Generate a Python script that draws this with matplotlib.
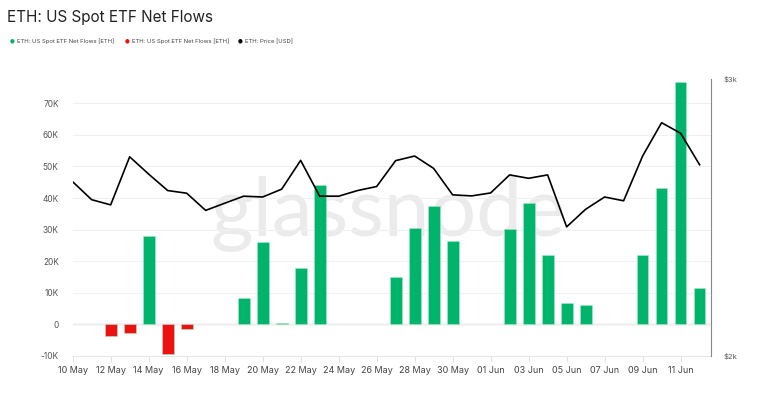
import matplotlib
matplotlib.use('Agg')
import matplotlib.pyplot as plt
import matplotlib.dates as mdates
import numpy as np
import pandas as pd

plt.rcParams['font.family'] = ['Inter', 'DejaVu Sans']

# Daily data, 10 May .. 12 Jun
dates = pd.date_range('2025-05-10', '2025-06-12', freq='D')
flows = [0, 0, -3600, -2800, 28000, -9300, -1500, 0, 0, 8400,
         26100, 300, 17800, 44200, 0, 0, 0, 15100, 30600, 37500,
         26500, 0, 0, 30200, 38300, 21900, 6900, 6100, 0, 0,
         22100, 43200, 76900, 11400]
price = [2581, 2514, 2495, 2677, 2610, 2548, 2538, 2475, 2501, 2527,
         2524, 2553, 2663, 2527, 2527, 2548, 2563, 2662, 2680, 2632,
         2532, 2528, 2539, 2607, 2594, 2607, 2416, 2479, 2524, 2510,
         2680, 2814, 2771, 2646]
series_labels = ['ETH: US Spot ETF Net Flows [ETH]',
                 'ETH: US Spot ETF Net Flows [ETH]',
                 'ETH: Price [USD]']

GREEN = '#00b46c'
RED = '#ee1111'

fig = plt.figure(figsize=(7.65, 3.99), dpi=100)
ax = fig.add_axes([0.095, 0.108, 0.834, 0.694])

flows = np.array(flows)
nz = flows != 0
colors = [GREEN if v >= 0 else RED for v in flows[nz]]
ax.bar(dates[nz], flows[nz], width=0.62, color=colors, edgecolor='#a8e6c8',
       linewidth=0.4, zorder=2)
ax.axhline(0, color='#a8a8a8', lw=0.9, zorder=1.5)

# watermark behind the data
ax.text(0.494, 0.513, 'glassnode', transform=ax.transAxes, fontsize=59,
        color='#ebebeb', ha='center', va='center', zorder=0.5,
        family=['Lato', 'DejaVu Sans'])

ax.set_ylim(-10000, 77700)
ax.set_yticks(np.arange(-10000, 70001, 10000))
ax.set_yticklabels(['0' if v == 0 else '{}K'.format(v // 1000)
                    for v in range(-10000, 70001, 10000)])
ax.grid(axis='y', color='#f0f0f0', lw=0.8, zorder=0)
ax.set_xlim(dates[0], dates[-1] + pd.Timedelta(hours=14))
ax.set_xticks(dates[::2])
ax.xaxis.set_major_formatter(mdates.DateFormatter('%d %b'))
ax.tick_params(axis='y', length=0, pad=10, labelsize=6, labelcolor='#555555')
ax.tick_params(axis='x', length=4, color='#e2e2e2', pad=3, labelsize=6.5,
               labelcolor='#444444')
for s in ['top', 'left', 'right']:
    ax.spines[s].set_visible(False)
ax.spines['bottom'].set_color('#e6e6e6')

ax2 = ax.twinx()
ax2.plot(dates, price, color='black', lw=1.2, zorder=3)
ax2.set_yscale('log')
ax2.set_ylim(2000, 3000)
ax2.set_yticks([2000, 3000])
ax2.set_yticklabels(['$2k', '$3k'])
ax2.yaxis.set_minor_locator(matplotlib.ticker.NullLocator())
ax2.tick_params(axis='y', length=0, pad=9, labelsize=5.5, labelcolor='#555555')
for s in ['top', 'left', 'bottom']:
    ax2.spines[s].set_visible(False)
ax2.spines['right'].set_color('#888888')

fig.text(0.009, 0.955, 'ETH: US Spot ETF Net Flows', fontsize=11,
         color='#222222', va='center', ha='left')

legend_colors = [GREEN, RED, 'black']
legend_x = [0.016, 0.166, 0.314]
for lx, c, lab in zip(legend_x, legend_colors, series_labels):
    fig.text(lx, 0.897, '\u25cf', color=c, fontsize=4, va='center', ha='center',
             family='DejaVu Sans')
    fig.text(lx + 0.006, 0.897, lab, fontsize=4.3, color='#444444',
             va='center', ha='left')

fig.savefig('out.png', dpi=100)
